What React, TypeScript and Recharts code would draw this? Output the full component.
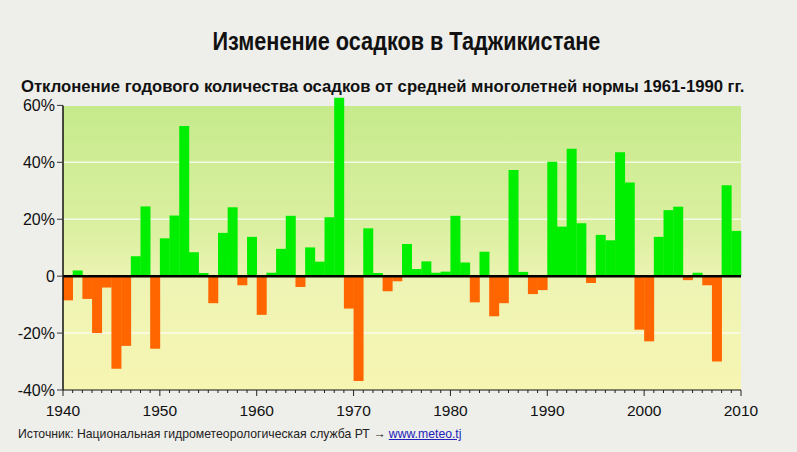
import React from 'react';
import { BarChart, Bar, XAxis, YAxis, CartesianGrid, ReferenceLine, Cell } from 'recharts';

// годы и отклонение осадков от нормы 1961-1990, %
const YEARS = [
  1940, 1941, 1942, 1943, 1944, 1945, 1946, 1947, 1948, 1949,
  1950, 1951, 1952, 1953, 1954, 1955, 1956, 1957, 1958, 1959,
  1960, 1961, 1962, 1963, 1964, 1965, 1966, 1967, 1968, 1969,
  1970, 1971, 1972, 1973, 1974, 1975, 1976, 1977, 1978, 1979,
  1980, 1981, 1982, 1983, 1984, 1985, 1986, 1987, 1988, 1989,
  1990, 1991, 1992, 1993, 1994, 1995, 1996, 1997, 1998, 1999,
  2000, 2001, 2002, 2003, 2004, 2005, 2006, 2007, 2008, 2009,
];

const DEVIATION = [
  -8.5, 2, -8, -20, -4, -32.5, -24.5, 7, 24.5, -25.5,
  13.3, 21.3, 52.8, 8.4, 1.1, -9.5, 15.2, 24.2, -3.2, 13.8,
  -13.6, 1.2, 9.6, 21.2, -3.8, 10.1, 5.1, 20.7, 62.7, -11.4,
  -36.8, 16.8, 1.1, -5.3, -1.8, 11.3, 2.5, 5.2, 1.2, 1.6,
  21.2, 4.8, -9.2, 8.6, -14.1, -9.5, 37.3, 1.5, -6.3, -4.9,
  40.2, 17.4, 44.8, 18.6, -2.4, 14.5, 12.6, 43.5, 32.9, -18.8,
  -22.9, 13.8, 23.2, 24.4, -1.4, 1.2, -3.2, -30, 31.9, 15.9,
];

const Y_TICKS = [-40, -20, 0, 20, 40, 60];
const GRID_LINES = [-20, 20, 40];
const X_DOMAIN: [number, number] = [1940, 2010];
const YEAR_TICKS = Array.from({ length: 71 }, (_, i) => 1940 + i);

const data = YEARS.map((year, i) => ({ year, value: DEVIATION[i] }));

const GREEN = '#00ee00';
const ORANGE = '#ff6600';
const FONT = '"Liberation Sans", Arial, sans-serif';

const YearTick = (props: any) => {
  const { x, y, payload } = props;
  const major = payload.value % 10 === 0;
  return (
    <g>
      <line x1={x} x2={x} y1={y} y2={y + (major ? 6 : 3)} stroke="#222" strokeWidth={1} />
      {major && (
        <text x={x} y={y + 26} textAnchor="middle" fontSize={15.5} fill="#111" fontFamily={FONT}>
          {payload.value}
        </text>
      )}
    </g>
  );
};

export default function App() {
  return (
    <div
      style={{
        position: 'absolute',
        left: 0,
        top: 0,
        width: 797,
        height: 452,
        background: '#eeeeea',
        overflow: 'hidden',
      }}
    >
      <div
        style={{
          position: 'absolute',
          top: 27,
          left: 0,
          width: 813,
          textAlign: 'center',
          fontFamily: FONT,
          fontWeight: 'bold',
          fontSize: 25,
          color: '#111',
          transform: 'scaleX(0.866)',
          transformOrigin: '406px 0',
          whiteSpace: 'nowrap',
        }}
      >
        Изменение осадков в Таджикистане
      </div>
      <div
        style={{
          position: 'absolute',
          top: 77,
          left: 21,
          fontFamily: FONT,
          fontWeight: 'bold',
          fontSize: 17,
          color: '#111',
          whiteSpace: 'nowrap',
          transform: 'scaleX(0.98)',
          transformOrigin: '0 0',
        }}
      >
        Отклонение годового количества осадков от средней многолетней нормы 1961-1990 гг.
      </div>

      {/* фон области графика */}
      <div
        style={{
          position: 'absolute',
          left: 63,
          top: 106,
          width: 678,
          height: 284,
          background: 'linear-gradient(to bottom, #c6ea8c 0%, #dcf0a2 45%, #eef4b4 62%, #f7f5b2 100%)',
        }}
      />

      <div style={{ position: 'absolute', left: 0, top: 0 }}>
        <BarChart
          width={797}
          height={452}
          data={data}
          margin={{ top: 94, right: 56, left: 0, bottom: 22 }}
          barCategoryGap={0}
          barGap={0}
        >
          <CartesianGrid
            vertical={false}
            horizontalValues={GRID_LINES}
            stroke="#ffffff"
            strokeOpacity={0.75}
            strokeWidth={1.5}
          />
          <XAxis xAxisId="cat" dataKey="year" type="category" hide padding={{ left: 0, right: 0 }} />
          <XAxis
            dataKey="year"
            type="number"
            domain={X_DOMAIN}
            allowDataOverflow
            ticks={YEAR_TICKS}
            interval={0}
            tickSize={0}
            tickMargin={0}
            tick={<YearTick />}
            height={40}
            axisLine={{ stroke: '#111', strokeWidth: 1.2 }}
          />
          <YAxis
            type="number"
            domain={[-40, 64]}
            allowDataOverflow
            ticks={Y_TICKS}
            interval={0}
            width={63}
            axisLine={false}
            tickSize={6}
            tickLine={{ stroke: '#333' }}
            tickFormatter={(v: number) => (v === 0 ? '0' : `${v}%`)}
            tick={{ fill: '#111', fontSize: 16, fontFamily: FONT }}
          />
          <Bar xAxisId="cat" dataKey="value" isAnimationActive={false}>
            {data.map((d, i) => (
              <Cell key={i} fill={d.value >= 0 ? GREEN : ORANGE} />
            ))}
          </Bar>
          <ReferenceLine y={0} stroke="#000" strokeWidth={2.5} />
          <ReferenceLine
            segment={[
              { x: 1940, y: -40 },
              { x: 1940, y: 60 },
            ]}
            stroke="#111"
            strokeWidth={1.5}
          />
        </BarChart>
      </div>

      <div
        style={{
          position: 'absolute',
          top: 426,
          left: 18,
          fontFamily: FONT,
          fontSize: 13,
          color: '#222',
          whiteSpace: 'nowrap',
          transform: 'scaleX(0.94)',
          transformOrigin: '0 0',
        }}
      >
        Источник: Национальная гидрометеорологическая служба РТ →{' '}
        <span style={{ color: '#2222bb', textDecoration: 'underline' }}>www.meteo.tj</span>
      </div>
    </div>
  );
}
